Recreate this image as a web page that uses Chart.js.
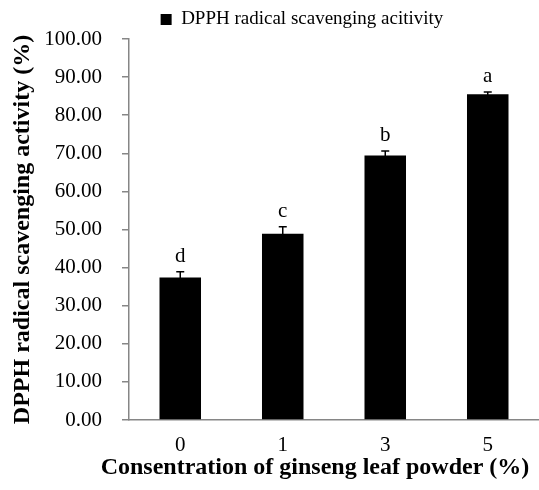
<!DOCTYPE html>
<html>
<head>
<meta charset="utf-8">
<script src="https://cdn.jsdelivr.net/npm/chart.js@4"></script>
<style>
  html, body { margin: 0; padding: 0; background: #fff; }
  #wrap { width: 539px; height: 490px; }
</style>
</head>
<body>
<div id="wrap"><canvas id="dpphChart"></canvas></div>
<script>
const categories = ['0', '1', '3', '5'];
const activity = [37.4, 48.9, 69.4, 85.5];
const activitySd = [1.5, 1.8, 1.2, 0.6];
const groupLetters = ['d', 'c', 'b', 'a'];

const serif = "'Liberation Serif', 'Times New Roman', serif";
const axisGray = '#868686';
const xTitle = 'Consentration of ginseng leaf powder (%)';

// error bars, significance letters and the x title (centred on the figure, not the axis)
const errorBarPlugin = {
    id: 'errorBars',
    afterLayout(chart) {
        // legend sits a bit right of the canvas centre in the original
        chart.legend.left += 30;
        chart.legend.right += 30;
    },
    afterDatasetsDraw(chart) {
        const ctx = chart.ctx;
        const yScale = chart.scales.y;
        const xScale = chart.scales.x;
        const bars = chart.getDatasetMeta(0).data;

        ctx.save();
        ctx.strokeStyle = '#000';
        ctx.lineWidth = 1.5;
        ctx.fillStyle = '#000';
        ctx.font = `21px ${serif}`;
        ctx.textAlign = 'center';
        ctx.textBaseline = 'alphabetic';

        bars.forEach((bar, i) => {
            const top = yScale.getPixelForValue(activity[i] + activitySd[i]);
            const bottom = yScale.getPixelForValue(activity[i] - activitySd[i]);
            ctx.beginPath();
            ctx.moveTo(bar.x, bottom);
            ctx.lineTo(bar.x, top);
            ctx.moveTo(bar.x - 4, top);
            ctx.lineTo(bar.x + 4, top);
            ctx.stroke();
            ctx.fillText(groupLetters[i], bar.x, top - 10);
        });

        ctx.font = `bold 24px ${serif}`;
        ctx.textBaseline = 'middle';
        ctx.fillText(xTitle, (xScale.left + xScale.right) / 2 - 19, xScale.bottom - 22);
        ctx.restore();
    }
};

new Chart(document.getElementById('dpphChart'), {
    type: 'bar',
    data: {
        labels: categories,
        datasets: [{
            label: 'DPPH radical scavenging acitivity',
            data: activity,
            backgroundColor: '#000',
            borderWidth: 0,
            categoryPercentage: 1,
            barPercentage: 0.405
        }]
    },
    options: {
        responsive: true,
        maintainAspectRatio: false,
        animation: false,
        layout: { padding: { top: 0, right: -5, left: 0, bottom: 0 } },
        plugins: {
            legend: {
                position: 'top',
                labels: {
                    color: '#000',
                    boxWidth: 11,
                    boxHeight: 11,
                    padding: 10,
                    font: { family: serif, size: 19 }
                }
            },
            tooltip: { enabled: false }
        },
        scales: {
            x: {
                grid: { display: false },
                border: { display: true, color: axisGray, width: 1.5 },
                ticks: {
                    color: '#000',
                    padding: 5,
                    font: { family: serif, size: 21 }
                },
                afterFit: (scale) => { scale.height = 70; }
            },
            y: {
                min: 0,
                max: 100,
                grid: {
                    display: true,
                    drawOnChartArea: false,
                    drawTicks: true,
                    tickLength: 7,
                    color: axisGray,
                    lineWidth: 1.5
                },
                border: { display: true, color: axisGray, width: 1.5 },
                ticks: {
                    stepSize: 10,
                    color: '#000',
                    padding: 20,
                    font: { family: serif, size: 21 },
                    callback: (v) => v.toFixed(2)
                },
                title: {
                    display: true,
                    text: 'DPPH radical scavenging activity (%)',
                    color: '#000',
                    font: { family: serif, size: 24, weight: 'bold' },
                    padding: { top: 8, bottom: 4 }
                },
                afterFit: (scale) => { scale.width = 129; }
            }
        }
    },
    plugins: [errorBarPlugin]
});
</script>
</body>
</html>
